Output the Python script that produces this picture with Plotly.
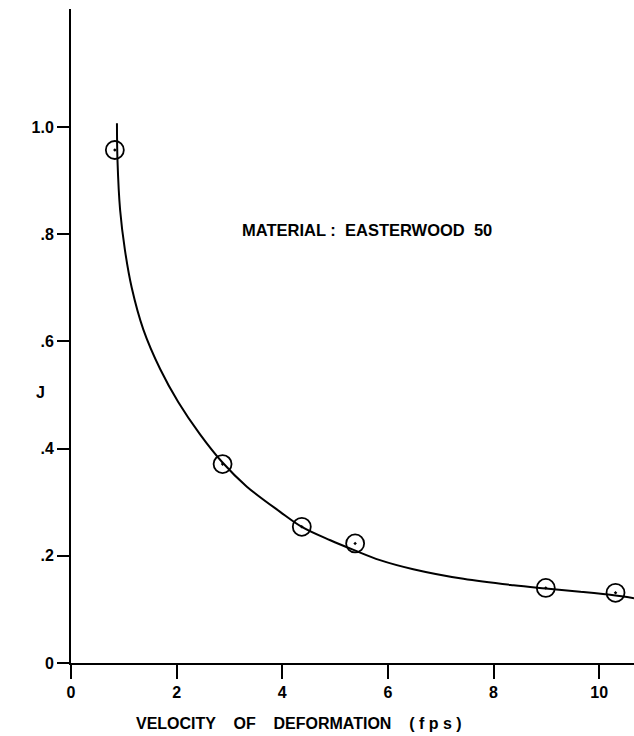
import plotly.graph_objects as go

# measured data points
pts_x = [0.83, 2.87, 4.37, 5.38, 8.99, 10.31]
pts_y = [0.957, 0.371, 0.254, 0.223, 0.140, 0.131]

# fitted curve
curve_x = [0.87, 0.88, 0.93, 1.02, 1.15, 1.37, 1.69, 2.03, 2.44, 2.86, 3.33, 3.96,
           4.37, 4.91, 5.35, 5.85, 6.48, 7.43, 8.38, 8.99, 9.64, 10.31, 10.66]
curve_y = [1.007, 0.938, 0.845, 0.771, 0.700, 0.622, 0.548, 0.487, 0.427, 0.375, 0.329, 0.282,
           0.254, 0.229, 0.211, 0.192, 0.175, 0.157, 0.145, 0.139, 0.133, 0.126, 0.121]

x_ticks = [0, 2, 4, 6, 8, 10]
x_tick_labels = ["0", "2", "4", "6", "8", "10"]
y_ticks = [0, 0.2, 0.4, 0.6, 0.8, 1.0]
y_tick_labels = ["0", ".2", ".4", ".6", ".8", "1.0"]

FONT = "Liberation Sans"

fig = go.Figure()
fig.add_trace(go.Scatter(x=curve_x, y=curve_y, mode="lines",
                         line=dict(color="black", width=2, shape="spline", smoothing=1.0),
                         hoverinfo="skip", showlegend=False))
fig.add_trace(go.Scatter(x=pts_x, y=pts_y, mode="markers",
                         marker=dict(symbol="circle-open-dot", size=18, color="black",
                                     line=dict(color="black", width=1.8)),
                         showlegend=False))

fig.add_annotation(text="MATERIAL :  EASTERWOOD  50", x=5.6, y=0.808, xref="x", yref="y",
                   xanchor="center", yanchor="middle", showarrow=False,
                   font=dict(family=FONT, size=16.5, color="black", weight="bold"))
fig.add_annotation(text="VELOCITY    OF    DEFORMATION    ( f p s )", x=0.405, y=-0.092,
                   xref="paper", yref="paper", xanchor="center", yanchor="middle", showarrow=False,
                   font=dict(family=FONT, size=16, color="black", weight="bold"))
fig.add_annotation(text="J", x=-0.055, y=0.414, xref="paper", yref="paper",
                   xanchor="center", yanchor="middle", showarrow=False,
                   font=dict(family=FONT, size=16, color="black", weight="bold"))

fig.update_xaxes(range=[0, 10.66], tickvals=x_ticks, ticktext=x_tick_labels,
                 showline=True, linecolor="black", linewidth=2, ticks="outside",
                 ticklen=14, tickwidth=2, tickcolor="black", showgrid=False, zeroline=False,
                 tickfont=dict(family=FONT, size=16, color="black", weight="bold"))
fig.update_yaxes(range=[0, 1.22], tickvals=y_ticks, ticktext=y_tick_labels,
                 showline=True, linecolor="black", linewidth=2, ticks="outside",
                 ticklen=12, tickwidth=2, tickcolor="black", showgrid=False, zeroline=False,
                 tickfont=dict(family=FONT, size=16, color="black", weight="bold"))

fig.update_layout(width=634, height=736, margin=dict(l=71, r=0, t=9, b=73),
                  plot_bgcolor="white", paper_bgcolor="white")

fig.write_html("out.html")
